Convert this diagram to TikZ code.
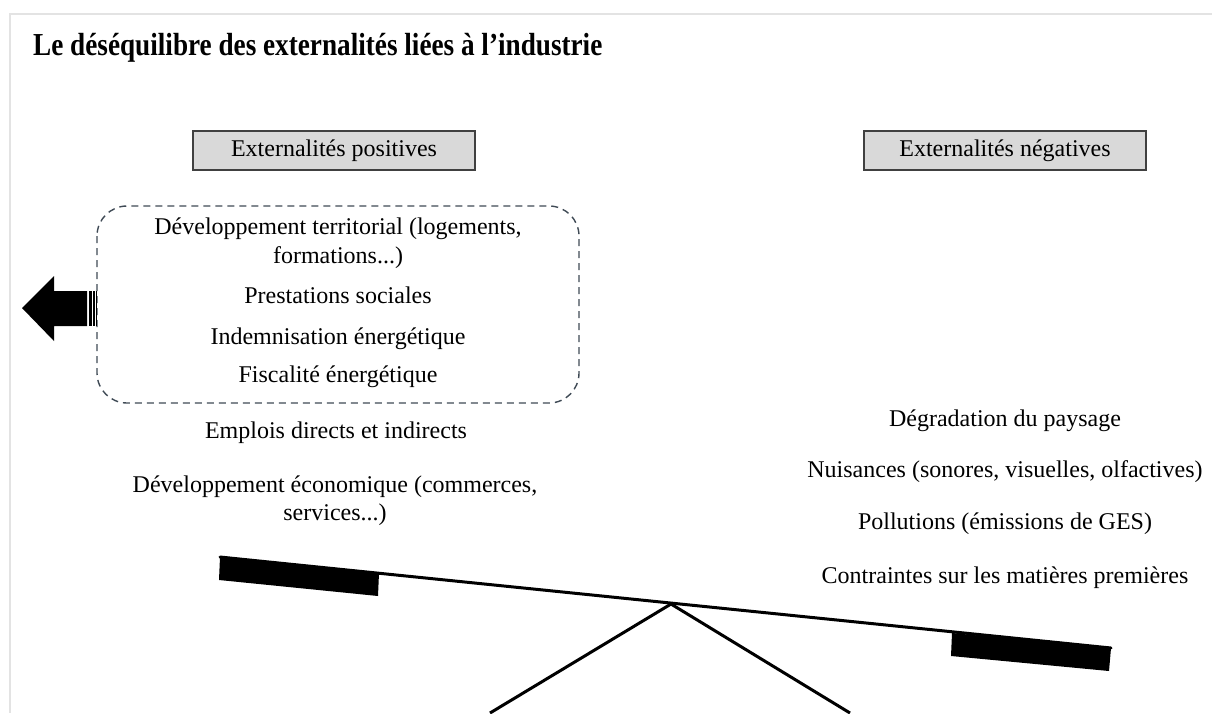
\documentclass[tikz,border=0pt]{standalone}
\usepackage{fontspec}
\setmainfont{Liberation Serif}
\usetikzlibrary{calc}
\definecolor{framegray}{HTML}{E3E3E3}
\definecolor{boxfill}{HTML}{D9D9D9}
\definecolor{boxdraw}{HTML}{404040}
\definecolor{dashgray}{HTML}{3F4A55}
\tikzset{
  body/.style={font=\fontsize{24}{29}\selectfont, align=center, inner sep=0pt, anchor=base},
  headbox/.style={draw=boxdraw, fill=boxfill, line width=1.2pt, minimum width=282pt, minimum height=39pt, inner sep=0pt, font=\fontsize{24}{29}\selectfont},
  groupbox/.style={draw=dashgray, dash pattern=on 7pt off 5pt, line width=1.4pt, rounded corners=30pt},
  beamline/.style={line width=3pt, line cap=round},
  weight/.style={fill=black, draw=none}
}
\begin{document}
\begin{tikzpicture}[x=1pt,y=-1pt]
\useasboundingbox (0,0) rectangle (1212,713);
% frame
\draw[framegray, line width=2pt] (10,713) -- (10,13.5) -- (1212,13.5);
% title
\node[anchor=base west, inner sep=0pt] (title) at (33,55) {\scalebox{0.85}[1]{\fontsize{32}{38}\selectfont\bfseries Le déséquilibre des externalités liées à l’industrie}};
% header boxes
\node[headbox] (pos) at (334,150.5) {Externalités positives};
\node[headbox] (neg) at (1005,150.5) {Externalités négatives};
% dashed group
\draw[groupbox] (97,206) rectangle (579,403);
\coordinate (grp) at (97,308);
% left texts
\node[body] (t1) at (338,234) {Développement territorial (logements,};
\node[body] (t1b) at (338,263) {formations...)};
\node[body] (t2) at (338,303) {Prestations sociales};
\node[body] (t3) at (338,344) {Indemnisation énergétique};
\node[body] (t4) at (338,382) {Fiscalité énergétique};
\node[body] (t5) at (336,438) {Emplois directs et indirects};
\node[body] (t6) at (335,492) {Développement économique (commerces,};
\node[body] (t6b) at (335,520) {services...)};
% right texts
\node[body] (r1) at (1005,426) {Dégradation du paysage};
\node[body] (r2) at (1005,477) {Nuisances (sonores, visuelles, olfactives)};
\node[body] (r3) at (1005,529) {Pollutions (émissions de GES)};
\node[body] (r4) at (1005,583) {Contraintes sur les matières premières};
% arrow
\fill[black] (22,308) -- (54,276) -- (54,291) -- (87,291) -- (87,326) -- (54,326) -- (54,341) -- cycle;
\fill[black] (89,291) rectangle (92,326);
\fill[black] (93.2,291) rectangle (95,326);
\fill[black] (96,291) rectangle (97,326);
% seesaw
\coordinate (bl) at (220,557);
\coordinate (br) at (1111,648);
\coordinate (piv) at (671,604);
\coordinate (fl) at (490,713);
\coordinate (fr) at (850,713);
\draw[beamline] (bl) -- (br);
\fill[weight] (220,557) -- (379,573) -- (378,596) -- (219,580) -- cycle;
\fill[weight] (952,633) -- (1111,648) -- (1109,671) -- (951,656) -- cycle;
\draw[line width=3pt, line join=miter] (fl) -- (piv) -- (fr);
\end{tikzpicture}
\end{document}
